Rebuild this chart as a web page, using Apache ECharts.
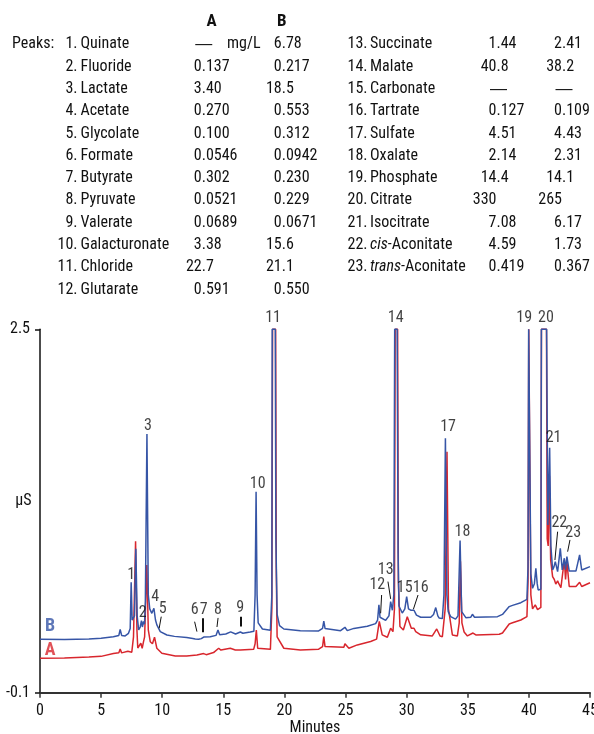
<!DOCTYPE html>
<html><head><meta charset="utf-8">
<script src="https://cdn.jsdelivr.net/npm/echarts@6/dist/echarts.min.js"></script>
<style>html,body{margin:0;padding:0;background:#fff}#c{width:594px;height:734px}</style>
</head><body><div id="c"></div>
<script>
// ---------- table data ----------
const peakNames = ['Quinate','Fluoride','Lactate','Acetate','Glycolate','Formate','Butyrate','Pyruvate','Valerate','Galacturonate','Chloride','Glutarate',
  'Succinate','Malate','Carbonate','Tartrate','Sulfate','Oxalate','Phosphate','Citrate','Isocitrate','{i|cis}-Aconitate','{i|trans}-Aconitate'];
const amountA = ['—','0.137','3.40','0.270','0.100','0.0546','0.302','0.0521','0.0689','3.38','22.7','0.591',
  '1.44','40.8','—','0.127','4.51','2.14','14.4','330','7.08','4.59','0.419'];
const amountB = ['6.78','0.217','18.5','0.553','0.312','0.0942','0.230','0.229','0.0671','15.6','21.1','0.550',
  '2.41','38.2','—','0.109','4.43','2.31','14.1','265','6.17','1.73','0.367'];

// ---------- axis ticks ----------
const xTicks = [0,5,10,15,20,25,30,35,40,45];
const yTicks = [-0.1, 2.5];

// ---------- traces [minutes, µS] ----------
const traceB = [
 [0,0.283],[2,0.281],[4,0.285],[5,0.29],[6,0.301],[6.45,0.31],[6.56,0.352],[6.68,0.31],[6.97,0.306],[7.24,0.325],[7.38,0.36],
 [7.46,0.69],[7.54,0.42],[7.62,0.41],[7.73,0.45],[7.84,0.93],[7.95,0.45],[8.07,0.35],[8.2,0.37],[8.3,0.416],[8.38,0.37],[8.47,0.41],
 [8.55,0.39],[8.62,0.55],[8.75,1.751],[8.86,0.6],[8.98,0.5],[9.15,0.468],[9.32,0.504],[9.45,0.42],[9.56,0.385],[9.84,0.337],
 [10.38,0.313],[11,0.303],[12,0.295],[12.5,0.288],[12.7,0.285],[12.84,0.296],[12.98,0.283],[13.2,0.287],[13.39,0.298],[13.55,0.288],
 [13.93,0.30],[14.4,0.31],[14.56,0.349],[14.7,0.315],[15.2,0.32],[15.6,0.335],[16.0,0.32],[16.39,0.334],[16.6,0.325],[17.2,0.334],
 [17.5,0.34],[17.6,0.6],[17.68,1.338],[17.76,0.6],[17.85,0.4],[18.2,0.356],[18.85,0.347],[18.97,0.6],[19.0,2.5],[19.25,2.5],
 [19.3,1.0],[19.4,0.46],[19.6,0.38],[19.95,0.356],[21.3,0.344],[22.8,0.342],[23.12,0.36],[23.22,0.413],[23.32,0.36],[23.44,0.349],
 [24.59,0.344],[24.95,0.368],[25.14,0.344],[25.68,0.36],[26.78,0.375],[27.46,0.394],[27.62,0.42],[27.73,0.528],[27.82,0.44],
 [28.28,0.418],[28.55,0.45],[28.69,0.552],[28.83,0.49],[28.95,0.6],[29.02,2.5],[29.22,2.5],[29.3,0.9],[29.37,0.52],[29.64,0.47],
 [29.85,0.5],[30.0,0.587],[30.15,0.5],[30.33,0.49],[30.6,0.49],[30.8,0.455],[31.15,0.44],[31.97,0.44],[32.2,0.46],[32.38,0.509],
 [32.55,0.45],[32.65,0.435],[32.92,0.43],[33.05,0.6],[33.17,1.72],[33.29,0.6],[33.4,0.48],[33.6,0.444],[34.0,0.426],[34.2,0.45],
 [34.37,0.988],[34.5,0.48],[34.84,0.437],[35.25,0.44],[35.38,0.461],[35.55,0.44],[35.66,0.437],[37.43,0.444],[37.84,0.46],
 [38.39,0.516],[38.66,0.525],[39.34,0.544],[39.84,0.568],[39.93,0.8],[39.98,2.5],[40.08,2.5],[40.16,0.75],[40.3,0.647],[40.45,0.68],
 [40.57,0.79],[40.68,0.68],[40.76,0.635],[40.98,0.64],[41.02,2.5],[41.45,2.5],[41.55,1.1],[41.62,1.1],[41.7,1.653],[41.8,0.95],
 [41.94,0.778],[42.05,0.8],[42.16,0.838],[42.35,0.766],[42.57,0.933],[42.73,0.778],[42.9,0.862],[43.0,0.78],[43.11,0.874],
 [43.3,0.77],[43.85,0.77],[44.15,0.886],[44.32,0.778],[45,0.802]
];
const traceA = [
 [0,0.147],[2,0.148],[4,0.155],[5,0.16],[6,0.18],[6.45,0.185],[6.56,0.213],[6.68,0.185],[6.83,0.184],[7.19,0.196],[7.35,0.185],
 [7.51,0.19],[7.65,0.3],[7.82,0.984],[7.93,0.35],[8.0,0.22],[8.25,0.254],[8.36,0.218],[8.47,0.265],[8.56,0.3],[8.74,0.814],
 [8.86,0.35],[9.02,0.265],[9.2,0.25],[9.37,0.297],[9.56,0.218],[9.97,0.182],[11.07,0.163],[12,0.163],[12.84,0.17],[13.0,0.165],
 [13.39,0.18],[13.6,0.172],[14.2,0.187],[14.62,0.218],[14.8,0.205],[15.57,0.218],[15.98,0.205],[16.39,0.206],[17.48,0.21],
 [17.6,0.25],[17.7,0.349],[17.81,0.218],[18.85,0.21],[18.97,0.5],[19.03,2.5],[19.28,2.5],[19.33,0.8],[19.4,0.3],[19.95,0.218],
 [21.3,0.206],[22.8,0.211],[23.12,0.23],[23.22,0.301],[23.32,0.23],[23.44,0.218],[24.86,0.225],[24.95,0.25],[25.27,0.218],
 [25.96,0.242],[27.05,0.266],[27.54,0.283],[27.76,0.41],[28.0,0.314],[28.42,0.297],[28.69,0.361],[28.88,0.337],[29.0,0.5],
 [29.06,2.5],[29.26,2.5],[29.32,0.7],[29.45,0.373],[29.73,0.349],[30.05,0.444],[30.38,0.361],[30.6,0.361],[30.74,0.337],
 [31.15,0.314],[32.1,0.306],[32.46,0.356],[32.73,0.306],[32.92,0.3],[33.15,0.5],[33.3,1.624],[33.42,0.5],[33.74,0.313],
 [34.15,0.306],[34.3,0.4],[34.4,0.84],[34.52,0.4],[34.7,0.334],[34.97,0.306],[35.43,0.327],[35.66,0.313],[37.57,0.318],
 [37.84,0.327],[38.39,0.392],[38.66,0.4],[39.34,0.42],[39.84,0.444],[39.93,0.7],[39.99,2.5],[40.09,2.5],[40.16,0.6],[40.3,0.5],
 [40.52,0.528],[40.71,0.494],[40.98,0.51],[41.03,2.5],[41.44,2.5],[41.5,1.0],[41.58,0.95],[41.68,1.45],[41.78,0.85],[41.94,0.73],
 [42.08,0.71],[42.2,0.677],[42.35,0.7],[42.45,0.68],[42.62,0.652],[42.9,0.85],[43.0,0.71],[43.11,0.838],[43.3,0.66],[43.85,0.66],
 [44.15,0.69],[44.32,0.66],[45,0.687]
];

// ---------- peak annotations (label, minutes, µS) ----------
const peakLabels = [
 ['1',7.46,0.742],['2',8.41,0.468],['3',8.83,1.808],['4',9.43,0.587],['5',10.03,0.50],['6',12.65,0.492],['7',13.39,0.492],
 ['8',14.56,0.492],['9',16.39,0.506],['10',17.81,1.393],['11',19.07,2.58],['12',27.6,0.671],['13',28.28,0.778],['14',29.1,2.584],
 ['15',29.84,0.647],['16',31.15,0.647],['17',33.39,1.798],['18',34.56,1.052],['19',39.62,2.58],['20',41.39,2.58],
 ['21',42.02,1.722],['22',42.49,1.112],['23',43.63,1.046]
];
const leaderLines = [
 [[9.92,0.444],[9.75,0.361]],[[12.65,0.408],[12.84,0.337]],[[13.34,0.433],[13.34,0.333]],[[14.57,0.435],[14.48,0.37]],
 [[16.39,0.444],[16.39,0.373]],[[27.95,0.599],[27.87,0.468]],[[28.47,0.695],[28.69,0.571]],[[30.93,0.599],[30.55,0.497]],
 [[42.35,1.052],[42.13,0.849]],[[43.36,0.993],[43.17,0.909]]
];
const thickLeaders = [2, 4];
const traceTags = [['B',0.82,0.373],['A',0.82,0.199]];

// ---------- styling ----------
const FONT = '"Liberation Sans Narrow","Arial Narrow","Roboto Condensed","Liberation Sans",sans-serif';
const BLUE = '#3655a6', RED = '#d8262d', INK = '#111';

const chart = echarts.init(document.getElementById('c'), null, {renderer:'canvas'});

// table graphics
const graphics = [];
function txt(x, y, text, align, extra) {
  graphics.push({type:'text', x, y, silent:true, style:Object.assign({
    text, fontSize:16, fontFamily:FONT, fill:INK, align, verticalAlign:'middle',
    rich:{i:{fontStyle:'italic', fontSize:16, fontFamily:FONT, fill:INK}}
  }, extra||{})});
}
function decimalText(x, y, v) {
  if (v === '—') { txt(x + 2, y, v, 'center', {fontSize:17, fontFamily:'"Liberation Sans",sans-serif'}); return; }
  const k = v.indexOf('.');
  if (k < 0) { txt(x, y, v, 'right'); return; }
  txt(x, y, v.slice(0, k), 'right');
  txt(x, y, v.slice(k), 'left');
}
const row0 = 44.3, rowH = 22.3;
txt(211.7, 21.7, 'A', 'center', {fontWeight:'bold', fontSize:17});
txt(281.7, 21.7, 'B', 'center', {fontWeight:'bold', fontSize:17});
txt(12, row0, 'Peaks:', 'left');
peakNames.forEach((nm, i) => {
  const left = i < 12;
  const r = left ? i : i - 12;
  const y = row0 + r * rowH;
  const numR = left ? 77.5 : 367.5, nameX = left ? 80.5 : 370;
  const decA = left ? 201.7 : 496.5, decB = left ? 281.7 : 562;
  txt(numR, y, (i + 1) + '.', 'right');
  txt(nameX, y, nm, 'left');
  decimalText(decA, y, amountA[i]);
  decimalText(decB, y, amountB[i]);
});
txt(227, row0, 'mg/L', 'left');
// y-axis unit, placed beside the axis at the height it sits in the original
graphics.push({type:'text', x:31.5, y:500.7, silent:true,
  style:{text:'µS', fontSize:16, fontFamily:FONT, fill:INK, align:'right', verticalAlign:'middle'}});

const option = {
  animation:false,
  backgroundColor:'#fff',
  grid:{left:40, right:4, top:329.3, bottom:41.3, outerBoundsMode:'none'},
  xAxis:{
    type:'value', min:0, max:45, interval:5,
    name:'Minutes', nameLocation:'middle', nameGap:26,
    nameTextStyle:{fontSize:16, fontFamily:FONT, color:INK},
    axisLine:{show:true, onZero:false, lineStyle:{color:'#333', width:2}},
    axisTick:{show:true, length:5, lineStyle:{color:'#333', width:1.5}},
    axisLabel:{fontSize:16, fontFamily:FONT, color:INK, margin:10, customValues:xTicks},
    splitLine:{show:false}
  },
  yAxis:{
    type:'value', min:-0.1, max:2.5,
    axisLine:{show:true, onZero:false, lineStyle:{color:'#111', width:1.5}},
    axisTick:{show:true, length:5, customValues:yTicks, lineStyle:{color:'#111', width:1.5}},
    axisLabel:{fontSize:16, fontFamily:FONT, color:INK, margin:10, customValues:yTicks,
      formatter:v => (Math.round(v*10)/10).toString()},
    splitLine:{show:false}
  },
  graphic:graphics,
  series:[
    {type:'line', name:'A', data:traceA, showSymbol:false, clip:false, z:2,
     lineStyle:{color:RED, width:1.5}, itemStyle:{color:RED}},
    {type:'line', name:'B', data:traceB, showSymbol:false, clip:false, z:3,
     lineStyle:{color:BLUE, width:1.5}, itemStyle:{color:BLUE}},
    {type:'scatter', clip:false, z:5, symbolSize:0.1, itemStyle:{color:'transparent'},
     data:peakLabels.map(p => ({name:p[0], value:[p[1], p[2]]})),
     label:{show:true, position:'inside', formatter:'{b}', fontSize:16, fontFamily:FONT, color:INK},
     markLine:{silent:true, symbol:'none', animation:false,
       label:{show:false},
       data:leaderLines.map((l, i) => [
         {coord:l[0], lineStyle:{color:INK, type:'solid', width:thickLeaders.includes(i) ? 2 : 1}},
         {coord:l[1]}])}},
    {type:'scatter', clip:false, z:5, symbolSize:0.1, itemStyle:{color:'transparent'},
     data:traceTags.map(p => ({name:p[0], value:[p[1], p[2]],
       label:{color:p[0] === 'B' ? BLUE : RED}})),
     label:{show:true, position:'inside', formatter:'{b}', fontSize:18, fontWeight:'bold', fontFamily:FONT}}
  ]
};
chart.setOption(option);
</script></body></html>
